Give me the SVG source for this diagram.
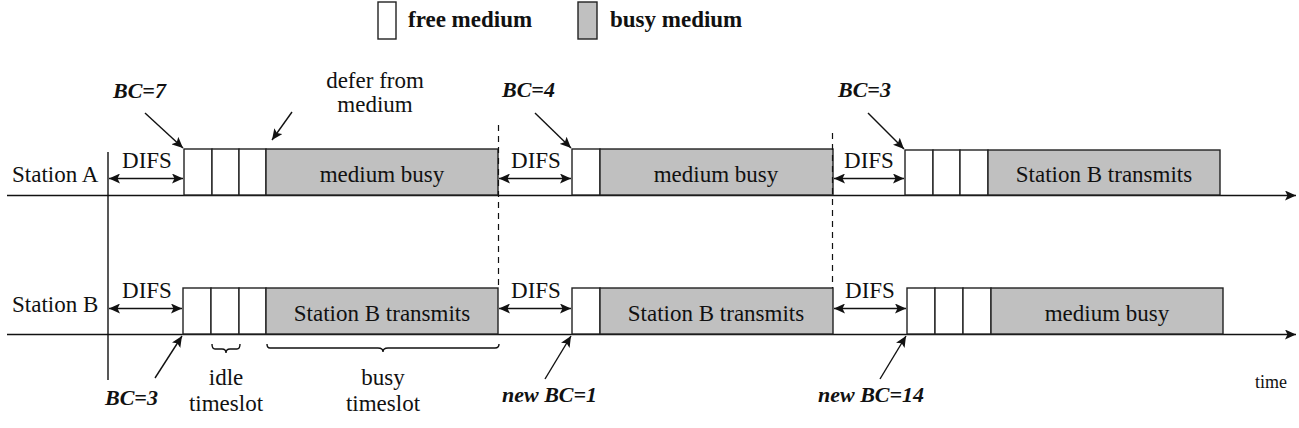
<svg xmlns="http://www.w3.org/2000/svg" width="1299" height="428" viewBox="0 0 1299 428">
<style>
text{font-family:'Liberation Serif','Times New Roman',Tinos,Times,'DejaVu Serif',serif;font-size:23px;fill:#111}
.b{font-weight:bold}
.bi{font-weight:bold;font-style:italic;font-size:22px}
.c{text-anchor:middle}
.free{fill:#fff;stroke:#222;stroke-width:1.4}
.busy{fill:#c0c0c0;stroke:#222;stroke-width:1.4}
.ln{stroke:#111;stroke-width:1.4;fill:none}
.ar{stroke:#111;stroke-width:1.4;fill:none;marker-end:url(#ah)}
.da{stroke:#111;stroke-width:1.4;fill:none;marker-start:url(#ahs);marker-end:url(#ah)}
.dash{stroke:#111;stroke-width:1.2;stroke-dasharray:6,5;fill:none}
</style>
<defs>
<marker id="ah" markerWidth="12" markerHeight="10" refX="11" refY="5" orient="auto" markerUnits="userSpaceOnUse">
<path d="M0,0 L11,5 L0,10 L2.5,5 Z" fill="#111"/>
</marker>
<marker id="ahs" markerWidth="12" markerHeight="10" refX="1" refY="5" orient="auto" markerUnits="userSpaceOnUse">
<path d="M12,0 L1,5 L12,10 L9.5,5 Z" fill="#111"/>
</marker>
</defs>
<rect width="1299" height="428" fill="#fff"/>

<g id="legend">
<rect class="free" x="378" y="2" width="18" height="37"/>
<text class="b" x="408" y="27">free medium</text>
<rect class="busy" x="578" y="2" width="19" height="37"/>
<text class="b" x="610" y="27">busy medium</text>
</g>

<g id="axes">
<line class="ar" x1="7" y1="195.5" x2="1296" y2="195.5"/>
<line class="ar" x1="7" y1="334.5" x2="1296" y2="334.5"/>
<line class="ln" x1="108" y1="152" x2="108" y2="380"/>
<text x="12" y="182">Station A</text>
<text x="12" y="312">Station B</text>
<text x="1255" y="388" style="font-size:18px">time</text>
</g>

<g id="stationA">
<rect class="free" x="184" y="149" width="28" height="46"/>
<rect class="free" x="212" y="149" width="27" height="46"/>
<rect class="free" x="239" y="149" width="27" height="46"/>
<rect class="busy" x="266" y="149" width="232" height="46"/>
<text class="c" x="382" y="182">medium busy</text>
<rect class="free" x="572" y="149" width="28" height="46"/>
<rect class="busy" x="600" y="149" width="233" height="46"/>
<text class="c" x="716" y="182">medium busy</text>
<rect class="free" x="905" y="150" width="28" height="45"/>
<rect class="free" x="933" y="150" width="27" height="45"/>
<rect class="free" x="960" y="150" width="28" height="45"/>
<rect class="busy" x="988" y="150" width="232" height="45"/>
<text class="c" x="1104" y="182">Station B transmits</text>
</g>

<g id="stationB">
<rect class="free" x="183" y="288" width="28" height="46"/>
<rect class="free" x="211" y="288" width="28" height="46"/>
<rect class="free" x="239" y="288" width="27" height="46"/>
<rect class="busy" x="266" y="288" width="232" height="46"/>
<text class="c" x="382" y="321">Station B transmits</text>
<rect class="free" x="572" y="288" width="28" height="46"/>
<rect class="busy" x="600" y="288" width="233" height="46"/>
<text class="c" x="716" y="321">Station B transmits</text>
<rect class="free" x="907" y="288" width="28" height="46"/>
<rect class="free" x="935" y="288" width="28" height="46"/>
<rect class="free" x="963" y="288" width="28" height="46"/>
<rect class="busy" x="991" y="288" width="232" height="46"/>
<text class="c" x="1107" y="321">medium busy</text>
</g>

<g id="difs">
<text class="c" x="147" y="168">DIFS</text>
<text class="c" x="536" y="168">DIFS</text>
<text class="c" x="869" y="168">DIFS</text>
<text class="c" x="147" y="298">DIFS</text>
<text class="c" x="536" y="298">DIFS</text>
<text class="c" x="870" y="298">DIFS</text>
</g>

<g id="labels">
<text class="bi" x="113" y="98">BC=7</text>
<text class="c" x="375" y="88">defer from</text>
<text class="c" x="375" y="112">medium</text>
<text class="bi" x="502" y="97">BC=4</text>
<text class="bi" x="838" y="97">BC=3</text>
<text class="bi" x="105" y="405">BC=3</text>
<text class="c" x="226" y="385">idle</text>
<text class="c" x="226" y="411">timeslot</text>
<text class="c" x="383" y="385">busy</text>
<text class="c" x="383" y="411">timeslot</text>
<text class="bi" x="502" y="402">new BC=1</text>
<text class="bi" x="818" y="402">new BC=14</text>
</g>

<g id="connectors">
<line class="da" x1="109" y1="178.5" x2="183" y2="178.5"/>
<line class="da" x1="499" y1="178.5" x2="571" y2="178.5"/>
<line class="da" x1="834" y1="178.5" x2="904" y2="178.5"/>
<line class="da" x1="109" y1="308.5" x2="182" y2="308.5"/>
<line class="da" x1="499" y1="308.5" x2="571" y2="308.5"/>
<line class="da" x1="834" y1="308.5" x2="906" y2="308.5"/>
<line class="ar" x1="145" y1="113" x2="183" y2="148"/>
<line class="ar" x1="292" y1="112" x2="272" y2="140"/>
<line class="ar" x1="535" y1="113" x2="571" y2="148"/>
<line class="ar" x1="868" y1="113" x2="904" y2="149"/>
<line class="ar" x1="155" y1="378" x2="182" y2="336"/>
<line class="ar" x1="545" y1="379" x2="571" y2="336"/>
<line class="ar" x1="880" y1="379" x2="906" y2="336"/>
<line class="dash" x1="498.5" y1="125" x2="498.5" y2="288"/>
<line class="dash" x1="832.5" y1="133" x2="832.5" y2="288"/>
<path class="ln" d="M212,344 Q212,349 215,349 L222,349 Q226,349 226,353 Q226,349 230,349 L237,349 Q240,349 240,344"/>
<path class="ln" d="M267,344 Q267,348 270,348 L378,348 Q383,348 383,352 Q383,348 388,348 L495,348 Q499,348 499,344"/>
</g>
</svg>
